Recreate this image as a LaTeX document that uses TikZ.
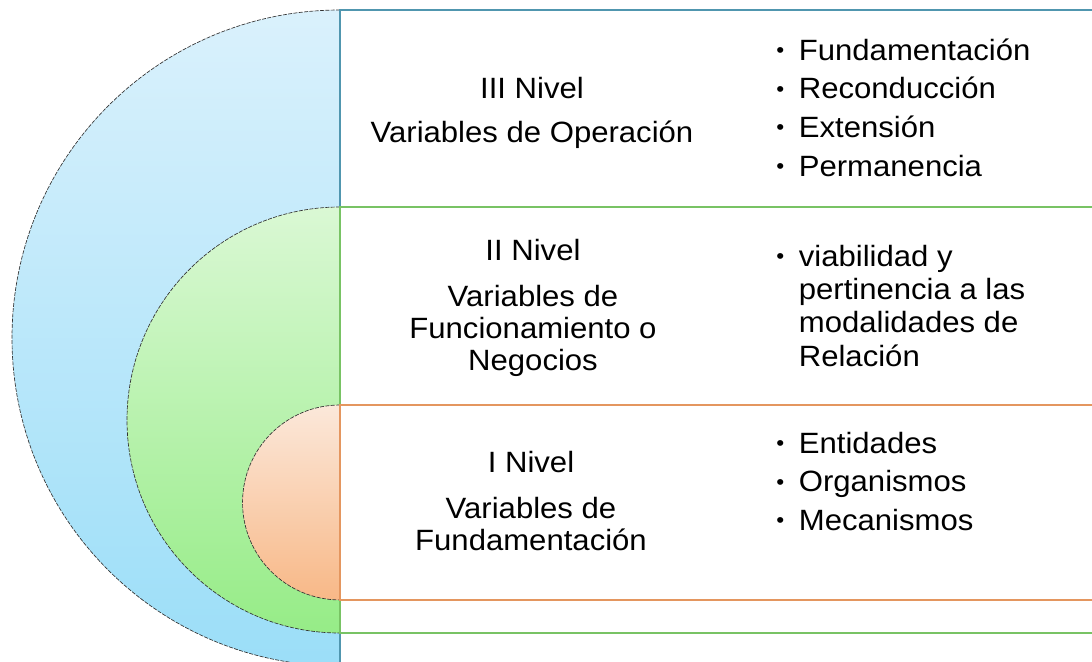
\documentclass[tikz,border=0pt]{standalone}
\usepackage{fontspec}
\setmainfont{Liberation Sans}[FakeStretch=1.06]
\usepackage{tikz}
\definecolor{azulborde}{RGB}{80,150,175}
\definecolor{verdeborde}{RGB}{120,195,100}
\definecolor{naranjaborde}{RGB}{228,150,95}
\definecolor{azularriba}{RGB}{218,241,252}
\definecolor{azulabajo}{RGB}{155,222,248}
\definecolor{verdearriba}{RGB}{218,248,212}
\definecolor{verdeabajo}{RGB}{150,236,135}
\definecolor{naranjaarriba}{RGB}{251,232,218}
\definecolor{naranjaabajo}{RGB}{248,184,135}
\newcommand{\bul}{\raisebox{1.8pt}{\fontsize{16}{16}\selectfont\textbullet}}

\begin{document}
\begin{tikzpicture}[
        x=0.75pt, y=-0.75pt,
        font=\fontsize{22}{24}\selectfont,
        semi/.style={dash pattern=on 3pt off 1pt, line width=0.5pt, draw=black!80},
        panel/.style={fill=white, line width=1.2pt},
        nivel/.style={anchor=base, inner sep=0pt},
        lista/.style={anchor=base west, inner sep=0pt},
    ]
    \useasboundingbox (0,0) rectangle (1092,661);

    % Nivel III
    \shade[top color=azularriba, bottom color=azulabajo] (340,10) arc[start angle=90, end angle=270, radius=246pt] -- cycle;
    \draw[semi] (340,10) arc[start angle=90, end angle=270, radius=246pt];
    \draw[panel, draw=azulborde] (340,10) rectangle (1100,700);

    % Nivel II
    \shade[top color=verdearriba, bottom color=verdeabajo] (340,207) arc[start angle=90, end angle=270, radius=159.75pt] -- cycle;
    \draw[semi] (340,207) arc[start angle=90, end angle=270, radius=159.75pt];
    \draw[panel, draw=verdeborde] (340,207) rectangle (1100,633);

    % Nivel I
    \shade[top color=naranjaarriba, bottom color=naranjaabajo] (340,405) arc[start angle=90, end angle=270, radius=73.1pt] -- cycle;
    \draw[semi] (340,405) arc[start angle=90, end angle=270, radius=73.1pt];
    \draw[panel, draw=naranjaborde] (340,405) rectangle (1100,600);

    % Textos
    \node[nivel] (n3) at (532,98) {\begin{tabular}[t]{@{}c@{}}III Nivel\\[9pt] Variables de Operación\end{tabular}};
    \node[nivel] (n2) at (533,260) {\begin{tabular}[t]{@{}c@{}}II Nivel\\[11pt] Variables de\\ Funcionamiento o\\ Negocios\end{tabular}};
    \node[nivel] (n1) at (531,472) {\begin{tabular}[t]{@{}c@{}}I Nivel\\[11pt] Variables de\\ Fundamentación\end{tabular}};

    \node[lista] (l3) at (776,60) {\begin{tabular}[t]{@{}l@{\hspace{11pt}}l@{}}
        \bul & Fundamentación\\[5pt]
        \bul & Reconducción\\[5pt]
        \bul & Extensión\\[5pt]
        \bul & Permanencia
    \end{tabular}};
    \node[lista] (l2) at (776,266) {\begin{tabular}[t]{@{}l@{\hspace{11pt}}l@{}}
        \bul & viabilidad y\\[1pt]
             & pertinencia a las\\[1pt]
             & modalidades de\\[1pt]
             & Relación
    \end{tabular}};
    \node[lista] (l1) at (776,453) {\begin{tabular}[t]{@{}l@{\hspace{11pt}}l@{}}
        \bul & Entidades\\[5pt]
        \bul & Organismos\\[5pt]
        \bul & Mecanismos
    \end{tabular}};
\end{tikzpicture}
\end{document}
